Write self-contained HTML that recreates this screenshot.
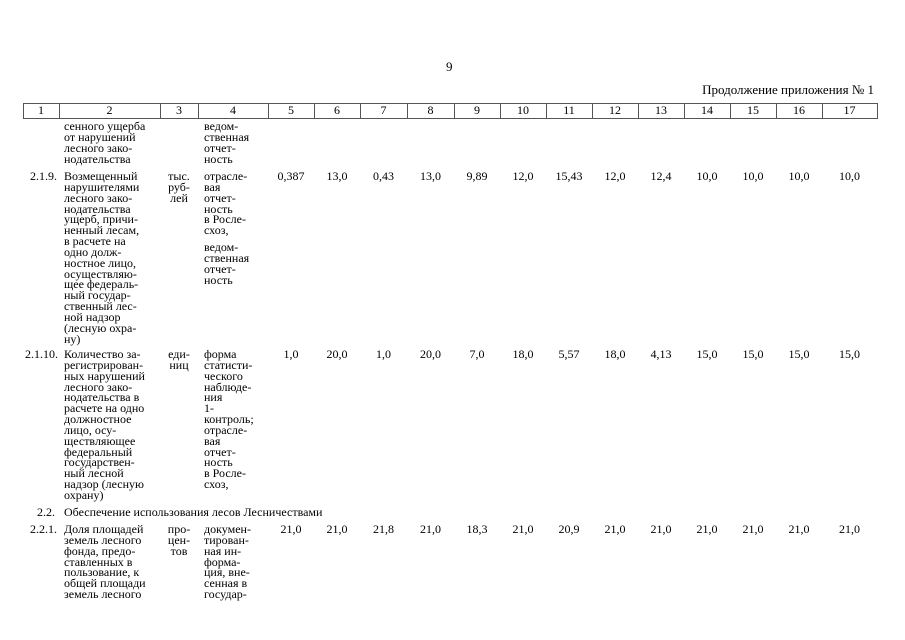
<!DOCTYPE html>
<html><head><meta charset="utf-8"><style>
body{margin:0;width:905px;height:640px;background:#fff;position:relative;overflow:hidden;font-family:"Liberation Serif","Noto Serif CJK SC",serif;color:#000;}
.t{position:absolute;font-size:12px;line-height:10.85px;white-space:pre;}
.c{text-align:center;}
.r{text-align:right;}
.hl{position:absolute;background:#555;}
</style></head><body>
<div class="t" style="left:446px;top:62px;font-size:13px;">9</div>
<div class="t r" style="left:600px;width:274px;top:85px;font-size:13px;">Продолжение приложения № 1</div>

<div class="hl" style="left:23px;top:103px;width:854px;height:1px"></div>
<div class="hl" style="left:23px;top:118px;width:854px;height:1px"></div>
<div id="hdr"></div>

<div class="t" style="left:64px;top:121px;">сенного ущерба
от нарушений
лесного зако-
нодательства</div>
<div class="t" style="left:204px;top:121px;">ведом-
ственная
отчет-
ность</div>

<div class="t r" style="left:20px;width:37px;top:171px;">2.1.9.</div>
<div class="t" style="left:64px;top:171px;">Возмещенный
нарушителями
лесного зако-
нодательства
ущерб, причи-
ненный лесам,
в расчете на
одно долж-
ностное лицо,
осуществляю-
щее федераль-
ный государ-
ственный лес-
ной надзор
(лесную охра-
ну)</div>
<div class="t c" style="left:160px;width:38px;top:171px;">тыс.
руб-
лей</div>
<div class="t" style="left:204px;top:171px;">отрасле-
вая
отчет-
ность
в Росле-
схоз,</div>
<div class="t" style="left:204px;top:242px;">ведом-
ственная
отчет-
ность</div>

<div class="t r" style="left:20px;width:38px;top:349px;">2.1.10.</div>
<div class="t" style="left:64px;top:349px;">Количество за-
регистрирован-
ных нарушений
лесного зако-
нодательства в
расчете на одно
должностное
лицо, осу-
ществляющее
федеральный
государствен-
ный лесной
надзор (лесную
охрану)</div>
<div class="t c" style="left:160px;width:38px;top:349px;">еди-
ниц</div>
<div class="t" style="left:204px;top:349px;">форма
статисти-
ческого
наблюде-
ния
1-
контроль;
отрасле-
вая
отчет-
ность
в Росле-
схоз,</div>

<div class="t r" style="left:20px;width:35px;top:507px;">2.2.</div>
<div class="t" style="left:64px;top:507px;">Обеспечение использования лесов Лесничествами</div>

<div class="t r" style="left:20px;width:37px;top:524px;">2.2.1.</div>
<div class="t" style="left:64px;top:524px;">Доля площадей
земель лесного
фонда, предо-
ставленных в
пользование, к
общей площади
земель лесного</div>
<div class="t c" style="left:160px;width:38px;top:524px;">про-
цен-
тов</div>
<div class="t" style="left:204px;top:524px;">докумен-
тирован-
ная ин-
форма-
ция, вне-
сенная в
государ-</div>

<div id="vals"></div>
<script>
var b=[23,59,160,198,268,314,360,407,454,500,546,592,638,684,730,776,822,877];
var h='';
for(var i=0;i<b.length;i++){h+='<div class="hl" style="left:'+b[i]+'px;top:103px;width:1px;height:16px"></div>';}
for(var i=0;i<17;i++){h+='<div class="t c" style="left:'+b[i]+'px;width:'+(b[i+1]-b[i])+'px;top:105px;">'+(i+1)+'</div>';}
document.getElementById('hdr').innerHTML=h;
var rows=[[171,['0,387','13,0','0,43','13,0','9,89','12,0','15,43','12,0','12,4','10,0','10,0','10,0','10,0']],
[349,['1,0','20,0','1,0','20,0','7,0','18,0','5,57','18,0','4,13','15,0','15,0','15,0','15,0']],
[524,['21,0','21,0','21,8','21,0','18,3','21,0','20,9','21,0','21,0','21,0','21,0','21,0','21,0']]];
var v='';
rows.forEach(function(r){r[1].forEach(function(x,j){var k=j+4;v+='<div class="t c" style="left:'+b[k]+'px;width:'+(b[k+1]-b[k])+'px;top:'+r[0]+'px;">'+x+'</div>';});});
document.getElementById('vals').innerHTML=v;
</script>
</body></html>
